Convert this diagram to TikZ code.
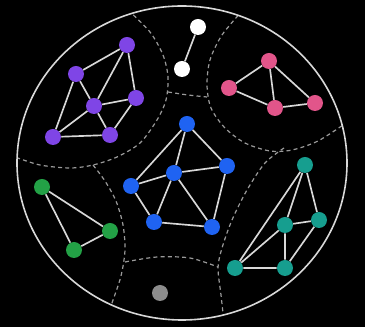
\documentclass[tikz,border=0pt]{standalone}
\definecolor{cpurple}{HTML}{7F45E6}
\definecolor{cpink}{HTML}{E2558A}
\definecolor{cblue}{HTML}{1F63F2}
\definecolor{cgreen}{HTML}{23A146}
\definecolor{cteal}{HTML}{169E8F}
\definecolor{cgray}{HTML}{8C8C8C}
\definecolor{edgegray}{HTML}{D8D8D8}
\definecolor{dashgray}{HTML}{9A9A9A}
\begin{document}
\begin{tikzpicture}[x=0.75pt,y=-0.75pt,
  vtx/.style={circle,inner sep=0pt,minimum size=12pt},
  edge/.style={draw=edgegray,line width=1.25pt},
  bound/.style={draw=dashgray,line width=0.9pt,dash pattern=on 3pt off 2.4pt},
  rim/.style={draw=edgegray,line width=1.2pt}]
\fill[black] (0,0) rectangle (365,327);
\useasboundingbox (0,0) rectangle (365,327);
% region boundaries
\begin{scope}
\clip (182,163) ellipse [x radius=165, y radius=157];
\draw[bound] plot[smooth] coordinates {(128,10) (150,32) (163,55) (168,77) (166,100) (157,120) (140,143) (117,157) (93,165) (70,168) (40,165) (15,157)};
\draw[bound] plot[smooth] coordinates {(93,165) (105,181) (116,201) (123,225) (125,250) (121,276) (112,303) (106,320)};
\draw[bound] plot[smooth] coordinates {(125,262) (157,257) (190,258) (218,267)};
\draw[bound] plot[smooth] coordinates {(284,148) (265,163) (247,190) (232,220) (222,248) (218,268) (221,295) (224,322)};
\draw[bound] plot[smooth] coordinates {(243,10) (222,35) (210,60) (207,85) (211,108) (225,128) (245,143) (270,151) (292,150) (318,141) (346,123)};
\draw[bound] plot[smooth] coordinates {(168,92) (188,95) (207,97)};
\end{scope}
\draw[rim] (182,163) ellipse [x radius=165, y radius=157];
% purple
\node[vtx,fill=cpurple] (p1) at (127,45) {};
\node[vtx,fill=cpurple] (p2) at (76,74) {};
\node[vtx,fill=cpurple] (p3) at (94,106) {};
\node[vtx,fill=cpurple] (p4) at (136,98) {};
\node[vtx,fill=cpurple] (p5) at (53,137) {};
\node[vtx,fill=cpurple] (p6) at (110,135) {};
\draw[edge] (p1)--(p2) (p1)--(p3) (p1)--(p4) (p2)--(p3) (p2)--(p5) (p3)--(p4) (p3)--(p5) (p3)--(p6) (p4)--(p6) (p5)--(p6);
% white
\node[vtx,fill=white] (w1) at (198,27) {};
\node[vtx,fill=white] (w2) at (182,69) {};
\draw[edge] (w1)--(w2);
% pink
\node[vtx,fill=cpink] (k1) at (269,61) {};
\node[vtx,fill=cpink] (k2) at (229,88) {};
\node[vtx,fill=cpink] (k3) at (275,108) {};
\node[vtx,fill=cpink] (k4) at (315,103) {};
\draw[edge] (k1)--(k2) (k1)--(k3) (k1)--(k4) (k2)--(k3) (k3)--(k4);
% blue
\node[vtx,fill=cblue] (b1) at (187,124) {};
\node[vtx,fill=cblue] (b2) at (131,186) {};
\node[vtx,fill=cblue] (b3) at (174,173) {};
\node[vtx,fill=cblue] (b4) at (227,166) {};
\node[vtx,fill=cblue] (b5) at (154,222) {};
\node[vtx,fill=cblue] (b6) at (212,227) {};
\draw[edge] (b1)--(b2) (b1)--(b3) (b1)--(b4) (b2)--(b3) (b3)--(b4) (b2)--(b5) (b3)--(b5) (b3)--(b6) (b5)--(b6) (b4)--(b6);
% green
\node[vtx,fill=cgreen] (g1) at (42,187) {};
\node[vtx,fill=cgreen] (g2) at (110,231) {};
\node[vtx,fill=cgreen] (g3) at (74,250) {};
\draw[edge] (g1)--(g2) (g1)--(g3) (g3)--(g2);
% teal
\node[vtx,fill=cteal] (t1) at (305,165) {};
\node[vtx,fill=cteal] (t2) at (285,225) {};
\node[vtx,fill=cteal] (t3) at (319,220) {};
\node[vtx,fill=cteal] (t4) at (235,268) {};
\node[vtx,fill=cteal] (t5) at (285,268) {};
\draw[edge] (t1)--(t2) (t1)--(t3) (t1)--(t4) (t2)--(t3) (t2)--(t4) (t2)--(t5) (t3)--(t5) (t4)--(t5);
% gray
\node[vtx,fill=cgray] (s1) at (160,293) {};
\end{tikzpicture}
\end{document}
